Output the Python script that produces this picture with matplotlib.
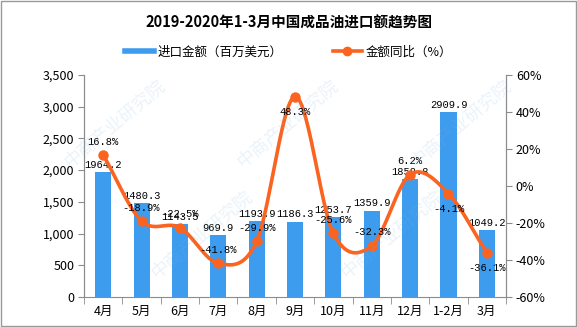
import numpy as np
import matplotlib
matplotlib.use("Agg")
import matplotlib.pyplot as plt
from matplotlib.lines import Line2D

plt.rcParams['font.family'] = ['Noto Sans CJK SC', 'DejaVu Sans']

categories = ["4月", "5月", "6月", "7月", "8月", "9月", "10月", "11月", "12月", "1-2月", "3月"]
import_value = [1964.2, 1480.3, 1143.5, 969.9, 1193.9, 1186.3, 1253.7, 1359.9, 1858.8, 2909.9, 1049.2]
yoy_pct = [16.8, -18.9, -22.5, -41.8, -29.9, 48.3, -25.6, -32.3, 6.2, -4.1, -36.1]
label_below = [False, False, False, False, False, True, False, False, False, True, True]

title = "2019-2020年1-3月中国成品油进口额趋势图"
bar_name = "进口金额（百万美元）"
line_name = "金额同比（%）"

blue = "#3e9cef"
orange = "#fb6320"
gray = "#8c8c8c"

fig = plt.figure(figsize=(5.77, 3.27), dpi=100)
ax = fig.add_axes([0.1456, 0.0917, 0.7314, 0.679])
ax2 = ax.twinx()

x = np.arange(len(categories))
ax.bar(x, import_value, width=0.42, color=blue, zorder=2)
ax.set_xlim(-0.5, len(categories) - 0.5)
ax.set_ylim(0, 3500)
ax.set_yticks(np.arange(0, 3501, 500))
ax.set_yticklabels([f"{v:,}" for v in range(0, 3501, 500)], fontsize=9)
ax.set_xticks(x)
ax.set_xticklabels(categories, fontsize=9)
ax.set_xticks(np.arange(-0.5, len(categories), 1), minor=True)
ax.tick_params(axis='x', which='major', length=0, pad=6)
ax.tick_params(axis='x', which='minor', length=5, color=gray)
ax.tick_params(axis='y', length=4, color=gray, pad=3)

for xi, v in zip(x, import_value):
    ax.text(xi, v + 40, f"{v:.1f}", ha='center', va='bottom', fontsize=7.5,
            family=['Liberation Mono', 'DejaVu Sans Mono'], zorder=5)

# smooth (Catmull-Rom) curve through the points
def catmull(xs, ys, n=30):
    px = np.concatenate([[2*xs[0]-xs[1]], xs, [2*xs[-1]-xs[-2]]])
    py = np.concatenate([[2*ys[0]-ys[1]], ys, [2*ys[-1]-ys[-2]]])
    ox, oy = [], []
    for i in range(1, len(px) - 2):
        t = np.linspace(0, 1, n)
        for arr, out in ((px, ox), (py, oy)):
            p0, p1, p2, p3 = arr[i-1], arr[i], arr[i+1], arr[i+2]
            out.extend(0.5*((2*p1) + (-p0+p2)*t + (2*p0-5*p1+4*p2-p3)*t**2 + (-p0+3*p1-3*p2+p3)*t**3))
    return np.array(ox), np.array(oy)

sx, sy = catmull(x.astype(float), np.array(yoy_pct, dtype=float))
ax2.plot(sx, sy, color=orange, lw=2.6, zorder=3, solid_capstyle='round')
ax2.plot(x, yoy_pct, 'o', color=orange, ms=6.5, zorder=4)
ax2.set_ylim(-60, 60)
ax2.set_yticks(np.arange(-60, 61, 20))
ax2.set_yticklabels([f"{v}%" for v in range(-60, 61, 20)], fontsize=9)
ax2.tick_params(axis='y', length=4, color=gray, pad=3)

for xi, v, below in zip(x, yoy_pct, label_below):
    off = -5.5 if below else 4.5
    ax2.text(xi, v + off, f"{v:.1f}%", ha='center', va='top' if below else 'bottom',
             fontsize=7.5, family=['Liberation Mono', 'DejaVu Sans Mono'], zorder=5)

for a in (ax, ax2):
    a.spines['top'].set_visible(False)
    for s in ('left', 'right', 'bottom'):
        a.spines[s].set_color(gray)
ax2.spines['bottom'].set_visible(False)

fig.text(0.5, 0.93, title, ha='center', va='center', fontsize=10.5, fontweight='bold')

handles = [Line2D([0], [0], color=blue, lw=4),
           Line2D([0], [0], color=orange, lw=2.6, marker='o', ms=6)]
fig.legend(handles, [bar_name, line_name], loc='center', bbox_to_anchor=(0.5, 0.84),
           ncol=2, frameon=False, fontsize=9, handlelength=2.3, columnspacing=4, handletextpad=0.3)

# light watermark, kept fully inside the figure
for (wx, wy) in [(0.2, 0.62), (0.5, 0.62), (0.8, 0.62), (0.35, 0.28), (0.68, 0.28)]:
    fig.text(wx, wy, "中商产业研究院", rotation=40, fontsize=13, color="#7fb3dd", alpha=0.16,
             ha='center', va='center', zorder=0)

fig.patches.append(plt.Rectangle((0.001, 0.002), 0.997, 0.995, transform=fig.transFigure,
                                 fill=False, edgecolor="#999999", lw=1))
fig.savefig("out.png", dpi=100)
